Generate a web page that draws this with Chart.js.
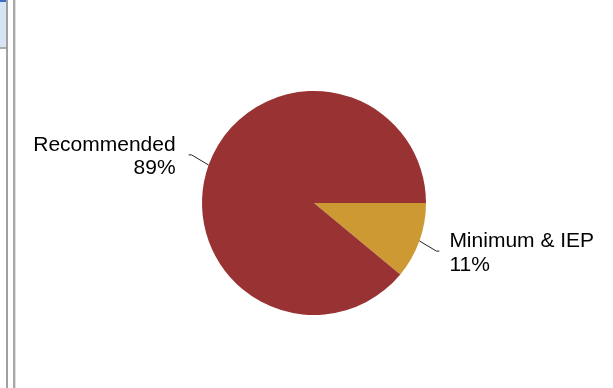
<!DOCTYPE html>
<html>
<head>
<meta charset="utf-8">
<script src="https://cdn.jsdelivr.net/npm/chart.js@4/dist/chart.umd.min.js"></script>
<style>
  body { margin: 0; background: #fff; overflow: hidden; }
  #wrap { position: relative; width: 613px; height: 388px; }
  /* window chrome bits on the left edge of the screenshot */
  .frame1 { position: absolute; left: 0; top: 0; width: 6px; height: 49px; background: #d6e4f3; border-top: 2px solid #3a6fc0; border-bottom: 2px solid #aaa; box-sizing: border-box; }
  .vline1 { position: absolute; left: 6px; top: 0; width: 2px; height: 388px; background: #a0a0a0; }
  .vline2 { position: absolute; left: 13px; top: 0; width: 2px; height: 388px; background: #a8a8a8; border-right: 1px solid #ddd; }
  canvas { position: absolute; left: 0; top: 0; }
</style>
</head>
<body>
<div id="wrap">
  <div class="frame1"></div>
  <div class="vline1"></div>
  <div class="vline2"></div>
  <canvas id="myChart" width="613" height="388"></canvas>
</div>
<script>
const categories = ['Minimum & IEP', 'Recommended'];
const values = [11, 89];
const colors = ['#cc9933', '#993333'];

// draws the outside labels with leader lines
const outsideLabels = {
  id: 'outsideLabels',
  afterDatasetsDraw(chart) {
    const ctx = chart.ctx;
    const meta = chart.getDatasetMeta(0);
    const total = values.reduce((a, b) => a + b, 0);
    ctx.save();
    ctx.font = '21px "Liberation Sans", Arial, sans-serif';
    ctx.fillStyle = '#000';
    ctx.strokeStyle = '#222';
    ctx.lineWidth = 1;
    meta.data.forEach((arc, i) => {
      const p = arc.getProps(['x', 'y', 'startAngle', 'endAngle', 'outerRadius'], true);
      const mid = (p.startAngle + p.endAngle) / 2;
      const dx = Math.cos(mid), dy = Math.sin(mid);
      const side = dx >= 0 ? 1 : -1;
      const ex = p.x + dx * p.outerRadius;
      const ey = p.y + dy * p.outerRadius;
      const kx = ex + side * 17;
      const ky = ey + dy * 30;
      const tx = kx + side * 3;
      ctx.beginPath();
      ctx.moveTo(ex, ey);
      ctx.lineTo(kx, ky);
      ctx.lineTo(tx, ky);
      ctx.stroke();
      const textX = tx + side * (side > 0 ? 10 : 13);
      ctx.textAlign = side > 0 ? 'left' : 'right';
      ctx.textBaseline = 'alphabetic';
      const pct = Math.round(values[i] / total * 100) + '%';
      ctx.fillText(categories[i], textX, ky - 4);
      ctx.fillText(pct, textX, ky + 19.5);
    });
    ctx.restore();
  }
};

new Chart(document.getElementById('myChart'), {
  type: 'pie',
  data: {
    labels: categories,
    datasets: [{
      data: values,
      backgroundColor: colors,
      borderWidth: 0
    }]
  },
  options: {
    responsive: false,
    animation: false,
    rotation: 90,
    layout: { padding: { left: 202, right: 187, top: 91, bottom: 73 } },
    plugins: {
      legend: { display: false },
      tooltip: { enabled: false }
    }
  },
  plugins: [outsideLabels]
});
</script>
</body>
</html>
